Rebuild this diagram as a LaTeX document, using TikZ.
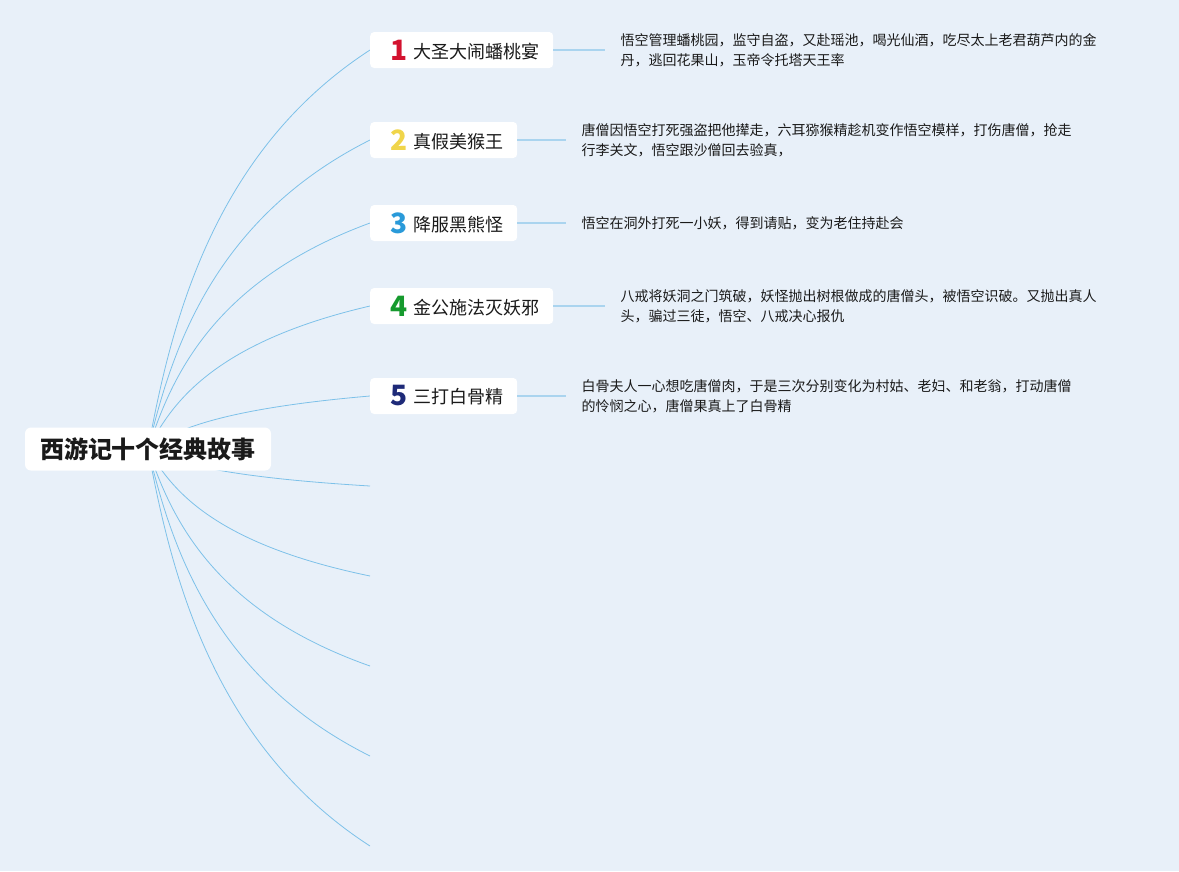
\documentclass[tikz,border=0pt]{standalone}
\usepackage{fontspec}
\setmainfont{Noto Sans CJK SC}
\usetikzlibrary{positioning,calc,backgrounds}
\definecolor{xyBg}{HTML}{E8F0F9}
\definecolor{xyLine}{HTML}{7DC1E9}
\definecolor{xyLink}{HTML}{AAD4EF}
\definecolor{xyInk}{HTML}{1A1A1A}
\definecolor{xyRed}{HTML}{D3122F}
\definecolor{xyYellow}{HTML}{F0D54A}
\definecolor{xyBlue}{HTML}{2A9AD9}
\definecolor{xyGreen}{HTML}{169A2E}
\definecolor{xyNavy}{HTML}{1E2A78}
\tikzset{
  rootbox/.style={rounded corners=6pt, fill=white, text=xyInk, inner xsep=15pt,
              minimum height=43pt, font=\fontsize{24}{28}\selectfont\bfseries},
  story/.style={rounded corners=4pt, fill=white, text=xyInk, inner xsep=14pt,
              minimum height=36pt, anchor=west, font=\fontsize{18}{22}\selectfont},
  note/.style={align=left, inner xsep=15pt, text=xyInk,
              font=\fontsize{14}{20}\selectfont},
  twig/.style={draw=xyLine, line width=0.8pt,
              to path={let \p1=(\tikztostart), \p2=(\tikztotarget) in
              .. controls ({\x1+0.1*(\x2-\x1)},{\y1+0.3*(\y2-\y1)})
              and ({\x2-0.72*(\x2-\x1)},{\y2-0.26*(\y2-\y1)}) .. (\tikztotarget)}},
  link/.style={draw=xyLink, line width=1.5pt},
}
\newcommand{\storyno}[2]{\makebox[29pt]{\raisebox{-2pt}{\fontsize{28}{28}\selectfont\bfseries\color{#1}#2}}}

\begin{document}
\begin{tikzpicture}[x=1pt,y=-1pt]
    \useasboundingbox (0,0) rectangle (1179,871);
    \node[rootbox] (root) at (148,449) {西游记十个经典故事};
    % the five stories
    \node[story] (b1) at (370,50) {\storyno{xyRed}{1}大圣大闹蟠桃宴};
    \node[story] (b2) at (370,140) {\storyno{xyYellow}{2}真假美猴王};
    \node[story] (b3) at (370,223) {\storyno{xyBlue}{3}降服黑熊怪};
    \node[story] (b4) at (370,306) {\storyno{xyGreen}{4}金公施法灭妖邪};
    \node[story] (b5) at (370,396) {\storyno{xyNavy}{5}三打白骨精};
    \node[note,right=52pt of b1] (d1)
         {悟空管理蟠桃园，监守自盗，又赴瑶池，喝光仙酒，吃尽太上老君葫芦内的金\\丹，逃回花果山，玉帝令托塔天王率};
    \node[note,right=49pt of b2] (d2)
         {唐僧因悟空打死强盗把他撵走，六耳猕猴精趁机变作悟空模样，打伤唐僧，抢走\\行李关文，悟空跟沙僧回去验真，};
    \node[note,right=49pt of b3] (d3)
         {悟空在洞外打死一小妖，得到请贴，变为老住持赴会};
    \node[note,right=52pt of b4] (d4)
         {八戒将妖洞之门筑破，妖怪抛出树根做成的唐僧头，被悟空识破。又抛出真人\\头，骗过三徒，悟空、八戒决心报仇};
    \node[note,right=49pt of b5] (d5)
         {白骨夫人一心想吃唐僧肉，于是三次分别变化为村姑、老妇、和老翁，打动唐僧\\的怜悯之心，唐僧果真上了白骨精};
    \foreach \i in {1,...,5} \draw[link] (b\i.east) -- (d\i.west);
    % empty branches
    \foreach \i/\y in {6/486,7/576,8/666,9/756,10/846}
      \coordinate (e\i) at (370,\y);
    \begin{scope}[on background layer]
      \fill[xyBg] (0,0) rectangle (1179,871);
      \foreach \i in {1,...,5} \draw[twig] (root.center) to (b\i.west);
      \foreach \i in {6,...,10} \draw[twig] (root.center) to (e\i);
    \end{scope}
\end{tikzpicture}
\end{document}
